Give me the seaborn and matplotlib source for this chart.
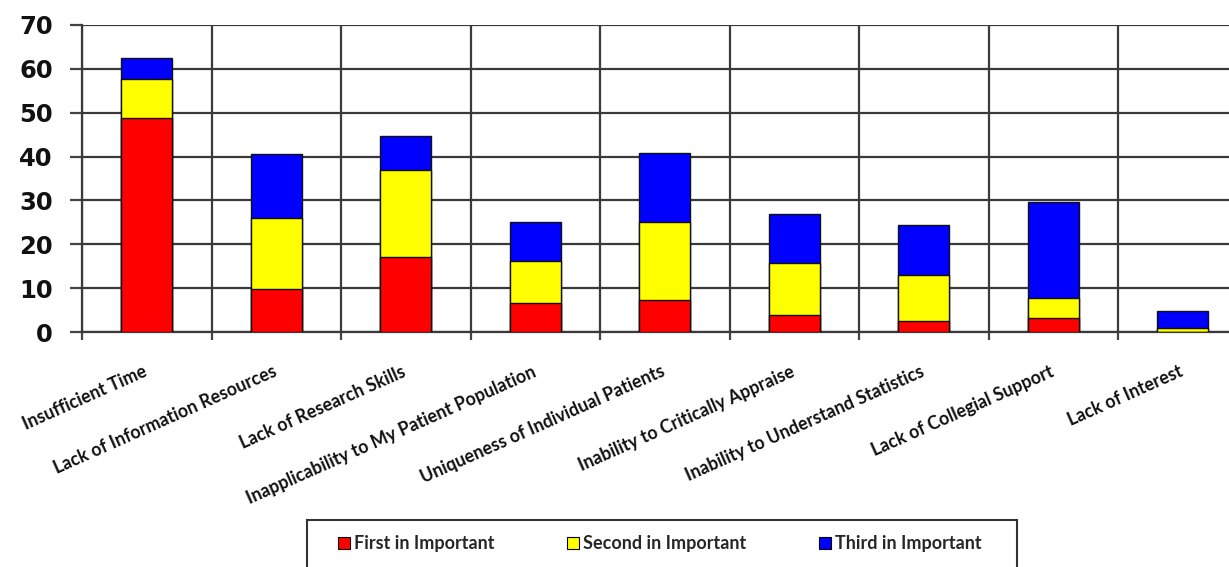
import matplotlib
matplotlib.use("Agg")
import matplotlib.pyplot as plt
import matplotlib.transforms as mtransforms
from matplotlib.patches import Patch, Rectangle
import numpy as np
import pandas as pd
import seaborn as sns

categories = [
    "Insufficient Time",
    "Lack of Information Resources",
    "Lack of Research Skills",
    "Inapplicability to My Patient Population",
    "Uniqueness of Individual Patients",
    "Inability to Critically Appraise",
    "Inability to Understand Statistics",
    "Lack of Collegial Support",
    "Lack of Interest",
]
first = [48.7, 9.8, 17.2, 6.6, 7.2, 3.9, 2.5, 3.1, 0.0]
second = [8.9, 16.2, 19.7, 9.6, 17.8, 11.8, 10.6, 4.6, 1.0]
third = [4.9, 14.5, 7.7, 8.9, 15.8, 11.2, 11.4, 22.0, 3.7]
series_names = ["First in Important", "Second in Important", "Third in Important"]
colors = ["#FF0000", "#FFFF00", "#0000FF"]
yticks = [0, 10, 20, 30, 40, 50, 60, 70]

df = pd.DataFrame({"category": categories, "first": first, "second": second, "third": third})
df["c1"] = df["first"]
df["c2"] = df["first"] + df["second"]
df["c3"] = df["c2"] + df["third"]

sns.set_theme(style="white")
plt.rcParams["font.family"] = ["DejaVu Sans"]

W, H = 1229, 567
fig = plt.figure(figsize=(W / 100, H / 100), dpi=100)
ax = fig.add_axes([82 / W, 235 / H, 1165.5 / W, 307 / H])

for col, color in zip(["c3", "c2", "c1"], colors[::-1]):
    sns.barplot(data=df, x="category", y=col, color=color, width=0.39,
                edgecolor="#111111", linewidth=1.0, saturation=1, ax=ax, zorder=3)

ax.set_xlim(-0.5, len(categories) - 0.5)
ax.set_ylim(0, 70)
ax.set_xlabel("")
ax.set_ylabel("")

ax.set_yticks(yticks)
ax.set_yticklabels([str(v) for v in yticks], fontsize=17.5, fontweight="bold", color="#111111")
ax.tick_params(axis="y", which="major", direction="out", length=9, width=1.6,
               color="#444444", pad=12, left=True)

ax.set_xticks(np.arange(len(categories)))
ax.set_xticks(np.arange(-0.5, len(categories), 1.0), minor=True)
ax.tick_params(axis="x", which="major", length=0, pad=0)
ax.tick_params(axis="x", which="minor", direction="out", length=6, width=1.6,
               color="#444444", bottom=True)

ax.grid(False)
ax.yaxis.grid(True, color="#3a3a3a", linewidth=1.6, zorder=0)
ax.xaxis.grid(True, which="minor", color="#3a3a3a", linewidth=1.6, zorder=0)
ax.set_axisbelow(True)

for s in ["top", "right"]:
    ax.spines[s].set_visible(False)
for s in ["left", "bottom"]:
    ax.spines[s].set_color("#3a3a3a")
    ax.spines[s].set_linewidth(1.6)

offset = mtransforms.ScaledTranslation(-0.04, -0.31, fig.dpi_scale_trans)
ax.set_xticklabels(categories, rotation=24, ha="right", va="top", rotation_mode="anchor",
                   fontsize=12.8, fontweight="bold", family=["Lato", "DejaVu Sans"],
                   color="#111111")
for lbl in ax.get_xticklabels():
    lbl.set_transform(lbl.get_transform() + offset)

# legend frame (extends past the bottom edge as in the reference)
fig.patches.append(Rectangle((307 / W, -10 / H), 710 / W, (H - 520 + 10) / H,
                             transform=fig.transFigure, facecolor="white",
                             edgecolor="#333333", linewidth=1.5, zorder=1))
handles = [Patch(facecolor=c, edgecolor="black", linewidth=0.8, label=n)
           for c, n in zip(colors, series_names)]
leg = fig.legend(handles=handles, loc="center", bbox_to_anchor=(660 / W, 1 - 544 / H),
                 ncol=3, frameon=False,
                 handlelength=0.65, handleheight=0.65, handletextpad=0.25,
                 columnspacing=4.0, borderpad=0.2,
                 prop={"family": ["Lato", "DejaVu Sans"], "weight": "bold", "size": 13})
leg.set_zorder(5)

fig.savefig("out.png", dpi=100, facecolor="white")
